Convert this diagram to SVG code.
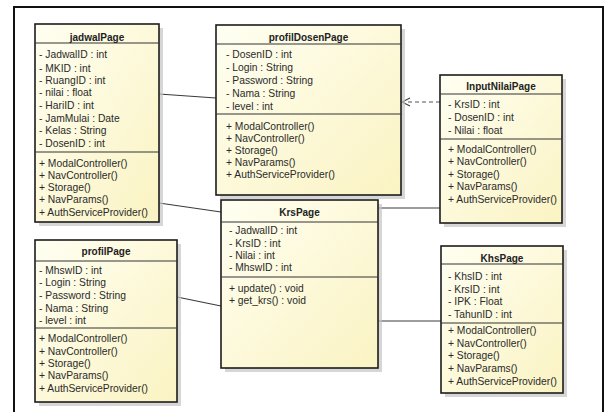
<svg xmlns="http://www.w3.org/2000/svg" width="607" height="412" viewBox="0 0 607 412">
  <defs>
    <linearGradient id="classFill" x1="0" y1="0" x2="1" y2="1">
      <stop offset="0" stop-color="#FFFFF2"/>
      <stop offset="1" stop-color="#FAF3C2"/>
    </linearGradient>
    <marker id="openArrow" markerWidth="12" markerHeight="12" refX="9" refY="5" orient="auto" markerUnits="userSpaceOnUse">
      <path d="M1,1 L9,5 L1,9" fill="none" stroke="#444" stroke-width="1.2"/>
    </marker>
  </defs>
  <style>
    .shadow { fill: #c4c4c4; opacity: 0.7; }
    .box { fill: url(#classFill); stroke: #1c1c1c; stroke-width: 1.6; }
    .sep { stroke: #333; stroke-width: 1; }
    .title { font-family: "Liberation Sans", Arial, sans-serif; font-size: 10px; font-weight: bold; fill: #222; text-anchor: middle; }
    .item { font-family: "Liberation Sans", Arial, sans-serif; font-size: 10.3px; fill: #2a2a2a; }
    .link { fill: none; stroke: #3a3a3a; stroke-width: 1.2; }
    .dep { fill: none; stroke: #555; stroke-width: 1.1; stroke-dasharray: 4 3; }
  </style>

  <rect width="607" height="412" fill="#ffffff"/>
  <!-- outer frame -->
  <rect x="14" y="7" width="589" height="420" fill="none" stroke="#111" stroke-width="2"/>

  <!-- connectors -->
  <g id="connectors">
    <line class="link" x1="159" y1="94" x2="216" y2="98"/>
    <line class="link" x1="159" y1="203" x2="221" y2="212"/>
    <line class="link" x1="177" y1="297" x2="221" y2="306"/>
    <line class="link" x1="378" y1="208" x2="440" y2="208"/>
    <line class="link" x1="378" y1="321" x2="441" y2="321"/>
    <line class="dep" x1="440" y1="102" x2="402" y2="102" marker-end="url(#openArrow)"/>
  </g>

  <!-- jadwalPage -->
  <g id="jadwalPage">
    <rect class="shadow" x="39" y="28" width="124" height="198"/>
    <rect class="box" x="35" y="24" width="124" height="198"/>
    <line class="sep" x1="35" y1="43" x2="159" y2="43"/>
    <line class="sep" x1="35" y1="152" x2="159" y2="152"/>
    <text class="title" x="97" y="40.5">jadwalPage</text>
    <text class="item" x="39" y="57.5">- JadwalID : int</text>
    <text class="item" x="39" y="71.5">- MKID : int</text>
    <text class="item" x="39" y="83.5">- RuangID : int</text>
    <text class="item" x="39" y="95.5">- nilai : float</text>
    <text class="item" x="39" y="108.5">- HariID : int</text>
    <text class="item" x="39" y="121.5">- JamMulai : Date</text>
    <text class="item" x="39" y="133.5">- Kelas : String</text>
    <text class="item" x="39" y="146.5">- DosenID : int</text>
    <text class="item" x="39" y="166.5">+ ModalController()</text>
    <text class="item" x="39" y="178.5">+ NavController()</text>
    <text class="item" x="39" y="190.5">+ Storage()</text>
    <text class="item" x="39" y="202.5">+ NavParams()</text>
    <text class="item" x="39" y="215.5">+ AuthServiceProvider()</text>
  </g>

  <!-- profilDosenPage -->
  <g id="profilDosenPage">
    <rect class="shadow" x="220" y="29" width="185" height="170"/>
    <rect class="box" x="216" y="25" width="185" height="170"/>
    <line class="sep" x1="216" y1="44" x2="401" y2="44"/>
    <line class="sep" x1="216" y1="114" x2="401" y2="114"/>
    <text class="title" x="308.5" y="40.5">profilDosenPage</text>
    <text class="item" x="226" y="58">- DosenID : int</text>
    <text class="item" x="226" y="71">- Login : String</text>
    <text class="item" x="226" y="84">- Password : String</text>
    <text class="item" x="226" y="96.5">- Nama : String</text>
    <text class="item" x="226" y="109.5">- level : int</text>
    <text class="item" x="226" y="129.5">+ ModalController()</text>
    <text class="item" x="226" y="141.5">+ NavController()</text>
    <text class="item" x="226" y="154">+ Storage()</text>
    <text class="item" x="226" y="166">+ NavParams()</text>
    <text class="item" x="226" y="178">+ AuthServiceProvider()</text>
  </g>

  <!-- InputNilaiPage -->
  <g id="InputNilaiPage">
    <rect class="shadow" x="444" y="79" width="122" height="148"/>
    <rect class="box" x="440" y="75" width="122" height="148"/>
    <line class="sep" x1="440" y1="94" x2="562" y2="94"/>
    <line class="sep" x1="440" y1="139" x2="562" y2="139"/>
    <text class="title" x="501" y="89.5">InputNilaiPage</text>
    <text class="item" x="448" y="108">- KrsID : int</text>
    <text class="item" x="448" y="121">- DosenID : int</text>
    <text class="item" x="448" y="134">- Nilai : float</text>
    <text class="item" x="448" y="153">+ ModalController()</text>
    <text class="item" x="448" y="165">+ NavController()</text>
    <text class="item" x="448" y="177.5">+ Storage()</text>
    <text class="item" x="448" y="190">+ NavParams()</text>
    <text class="item" x="448" y="202.5">+ AuthServiceProvider()</text>
  </g>

  <!-- profilPage -->
  <g id="profilPage">
    <rect class="shadow" x="39" y="244" width="142" height="162"/>
    <rect class="box" x="35" y="240" width="142" height="162"/>
    <line class="sep" x1="35" y1="261" x2="177" y2="261"/>
    <line class="sep" x1="35" y1="328" x2="177" y2="328"/>
    <text class="title" x="106" y="254.5">profilPage</text>
    <text class="item" x="39" y="273.5">- MhswID : int</text>
    <text class="item" x="39" y="286">- Login : String</text>
    <text class="item" x="39" y="298.5">- Password : String</text>
    <text class="item" x="39" y="311.5">- Nama : String</text>
    <text class="item" x="39" y="324">- level : int</text>
    <text class="item" x="39" y="341.5">+ ModalController()</text>
    <text class="item" x="39" y="354.5">+ NavController()</text>
    <text class="item" x="39" y="366.5">+ Storage()</text>
    <text class="item" x="39" y="379">+ NavParams()</text>
    <text class="item" x="39" y="391.5">+ AuthServiceProvider()</text>
  </g>

  <!-- KrsPage -->
  <g id="KrsPage">
    <rect class="shadow" x="225" y="204" width="157" height="168"/>
    <rect class="box" x="221" y="200" width="157" height="168"/>
    <line class="sep" x1="221" y1="222" x2="378" y2="222"/>
    <line class="sep" x1="221" y1="277" x2="378" y2="277"/>
    <text class="title" x="299.5" y="215.5">KrsPage</text>
    <text class="item" x="229" y="234">- JadwalID : int</text>
    <text class="item" x="229" y="246.5">- KrsID : int</text>
    <text class="item" x="229" y="258.5">- Nilai : int</text>
    <text class="item" x="229" y="271">- MhswID : int</text>
    <text class="item" x="229" y="291.5">+ update() : void</text>
    <text class="item" x="229" y="303.5">+ get_krs() : void</text>
  </g>

  <!-- KhsPage -->
  <g id="KhsPage">
    <rect class="shadow" x="445" y="250" width="122" height="147"/>
    <rect class="box" x="441" y="246" width="122" height="147"/>
    <line class="sep" x1="441" y1="264" x2="563" y2="264"/>
    <line class="sep" x1="441" y1="323" x2="563" y2="323"/>
    <text class="title" x="502" y="261.5">KhsPage</text>
    <text class="item" x="448" y="280">- KhsID : int</text>
    <text class="item" x="448" y="292.5">- KrsID : int</text>
    <text class="item" x="448" y="305">- IPK : Float</text>
    <text class="item" x="448" y="317.5">- TahunID : int</text>
    <text class="item" x="448" y="333.5">+ ModalController()</text>
    <text class="item" x="448" y="346.5">+ NavController()</text>
    <text class="item" x="448" y="359">+ Storage()</text>
    <text class="item" x="448" y="371.5">+ NavParams()</text>
    <text class="item" x="448" y="384.5">+ AuthServiceProvider()</text>
  </g>
</svg>
